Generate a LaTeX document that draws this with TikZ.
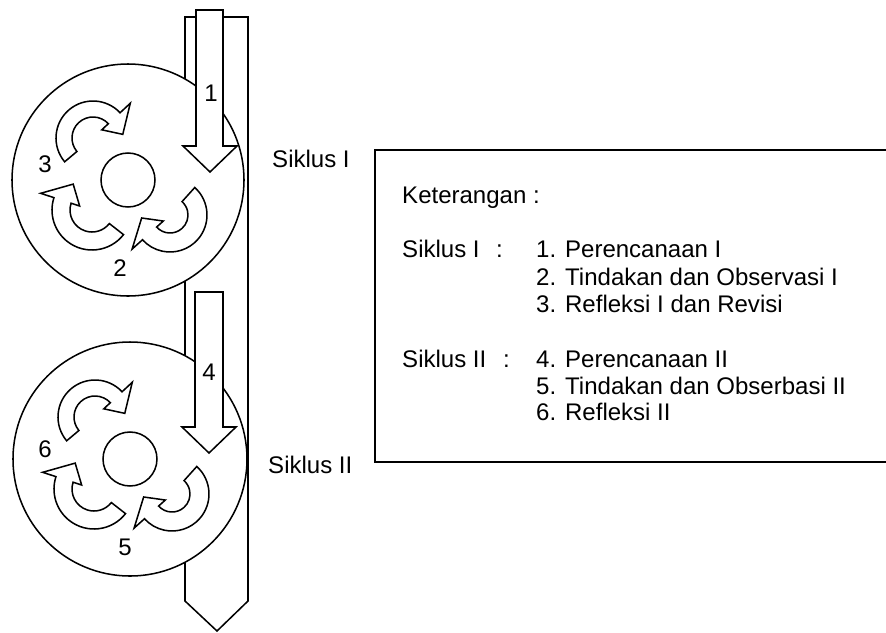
\documentclass[tikz,border=0pt]{standalone}
\usepackage{fontspec}
\setmainfont{Liberation Sans}
\usetikzlibrary{positioning,calc}

% curved block arrow: centre, start angle, end angle, inner r, outer r
\newcommand{\turnarrow}[5]{%
	\begin{scope}[shift={#1}]
		\draw[blockarrow] ({#2}:{#5}) arc[start angle={#2}, end angle={#3}, radius={#5}]
			-- ({#3}:{#5+14}) -- ({#3-36}:{(#4+#5)/2+1}) -- ({#3}:{#4-9})
			-- ({#3}:{#4}) arc[start angle={#3}, end angle={#2}, radius={#4}] -- cycle;
	\end{scope}}

\begin{document}
\begin{tikzpicture}[x=0.03cm, y=0.03cm,
					every node/.style={font=\fontsize{20.5}{24}\selectfont, inner sep=0pt},
					band/.style={draw, fill=white, line width=1.3pt, line join=miter},
					wheel/.style={draw, fill=white, line width=1.3pt},
					blockarrow/.style={draw, fill=white, line width=1.3pt, line join=miter},
					legendbox/.style={draw, line width=1.8pt},
					num/.style={anchor=center},
					txt/.style={anchor=base west}]
	\useasboundingbox (0,0) rectangle (886,-632);

	% the long band
	\draw[band] (185,-17) -- (248,-17) -- (248,-601) -- (217,-631) -- (185,-601) -- cycle;

	% the two cycles
	\coordinate (c1) at (128,-180);
	\coordinate (c2) at (130,-459);
	\draw[wheel] (c1) circle[radius=116];
	\draw[wheel] (c2) circle[radius=117];
	\draw[wheel] (c1) circle[radius=27];
	\draw[wheel] (c2) circle[radius=27];

	\foreach \c in {c1,c2}{
		\turnarrow{($(\c)+(-35,42)$)}{220}{43}{21}{37}
		\turnarrow{($(\c)+(-36,-30)$)}{-38}{-198}{22}{40}
		\turnarrow{($(\c)+(42,-35)$)}{48}{-138}{18}{37}
	}

	% straight arrows
	\draw[blockarrow] (196,-10) -- (223,-10) -- (223,-146) -- (237,-146) -- (210,-172)
		-- (183,-146) -- (196,-146) -- cycle;
	\draw[blockarrow] (195,-292) -- (223,-292) -- (223,-427) -- (236,-427) -- (209,-453)
		-- (182,-427) -- (195,-427) -- cycle;

	% step numbers
	\node[num] (n1) at (211,-93) {1};
	\node[num] (n2) at (120,-268) {2};
	\node[num] (n3) at (45,-164) {3};
	\node[num] (n4) at (209,-372) {4};
	\node[num] (n5) at (125,-547) {5};
	\node[num] (n6) at (45,-449) {6};

	\node[txt] (sik1) at (272,-167) {Siklus I};
	\node[txt] (sik2) at (268,-473) {Siklus II};

	% legend
	\draw[legendbox] (886,-150) -- (375,-150) -- (375,-462) -- (886,-462);
	\node[txt] (ket) at (402,-203) {Keterangan :};
	\node[txt] (ks1) at (402,-257) {Siklus I};
	\node[txt] (kc1) at (496,-257) {:};
	\node[txt] (i1) at (536,-257) {1. Perencanaan I};
	\node[txt] (i2) at (536,-285) {2. Tindakan dan Observasi I};
	\node[txt] (i3) at (536,-312) {3. Refleksi I dan Revisi};
	\node[txt] (ks2) at (402,-367) {Siklus II};
	\node[txt] (kc2) at (503,-367) {:};
	\node[txt] (i4) at (536,-367) {4. Perencanaan II};
	\node[txt] (i5) at (536,-394) {5. Tindakan dan Obserbasi II};
	\node[txt] (i6) at (536,-420) {6. Refleksi II};
\end{tikzpicture}
\end{document}
